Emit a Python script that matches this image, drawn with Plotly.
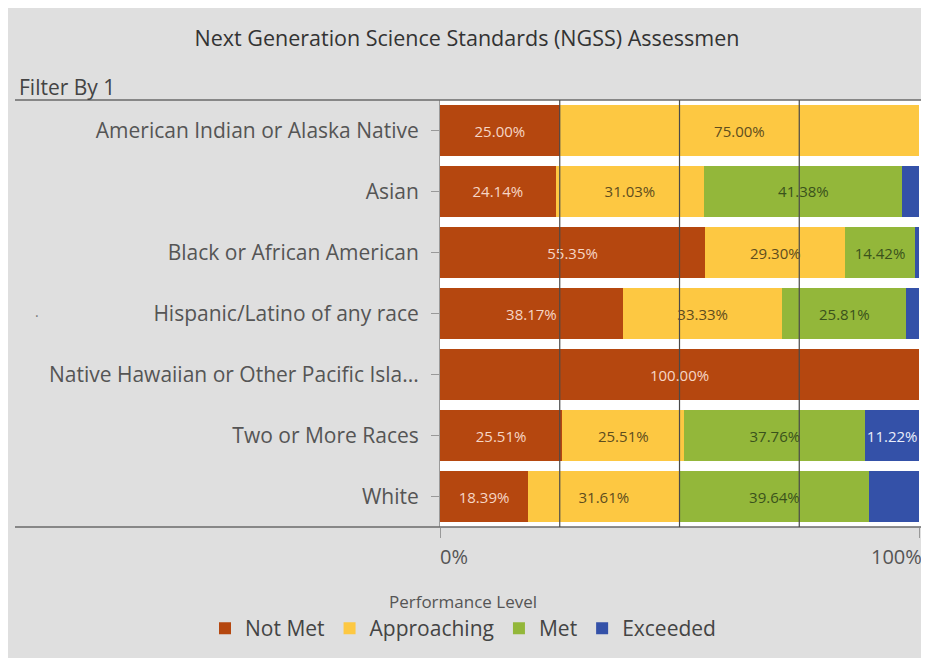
import plotly.graph_objects as go

categories = [
    "American Indian or Alaska Native",
    "Asian",
    "Black or African American",
    "Hispanic/Latino of any race",
    "Native Hawaiian or Other Pacific Isla...",
    "Two or More Races",
    "White",
]
not_met = [25.00, 24.14, 55.35, 38.17, 100.00, 25.51, 18.39]
approaching = [75.00, 31.03, 29.30, 33.33, 0.00, 25.51, 31.61]
met = [0.00, 41.38, 14.42, 25.81, 0.00, 37.76, 39.64]
exceeded = [0.00, 3.45, 0.93, 2.69, 0.00, 11.22, 10.36]

series_names = ["Not Met", "Approaching", "Met", "Exceeded"]
series_values = [not_met, approaching, met, exceeded]
series_colors = ["#b5470f", "#fdc842", "#93b73a", "#3451a8"]
label_colors = ["#f6d6c6", "#5e4d1e", "#3a521c", "#e9eefa"]
grid_vals = [25, 50, 75]
x_tick_vals = [0, 100]
x_tick_text = ["0%", "100%"]

FONT = "Open Sans"
# the page body adds an 8px margin, so the figure is 8px smaller
OFF = 8
W, H = 929 - OFF, 658 - OFF
L, R, T, B = 440 - OFF, 929 - 925, 100 - OFF, 658 - 527
plot_w = W - L - R
plot_h = H - T - B


def pxx(px):
    """reference-image x pixel -> paper x"""
    return (px - OFF - L) / plot_w


def pxy(py):
    """reference-image y pixel -> paper y"""
    return (H - B - (py - OFF)) / plot_h


fig = go.Figure()
for name, vals, col, lcol in zip(series_names, series_values, series_colors, label_colors):
    labels = [f"{v:.2f}%" if v >= 11 else "" for v in vals]
    fig.add_trace(go.Bar(
        y=categories, x=vals, name=name, orientation="h",
        marker=dict(color=col, line=dict(width=0)),
        text=labels, textposition="inside", insidetextanchor="middle",
        textangle=0,
        insidetextfont=dict(family=FONT, size=15, color=lcol),
        hovertemplate="%{y}<br>" + name + ": %{x:.2f}%<extra></extra>",
    ))

shapes = [
    dict(type="line", xref="paper", yref="paper",
         x0=pxx(15), x1=1, y0=1, y1=1,
         line=dict(color="#6a6a6a", width=1.5), layer="above"),
    dict(type="line", xref="paper", yref="paper",
         x0=pxx(15), x1=1, y0=0, y1=0,
         line=dict(color="#6a6a6a", width=1.5), layer="above"),
]
for g in grid_vals:
    shapes.append(dict(type="line", xref="x", yref="paper", x0=g, x1=g, y0=0, y1=1,
                       line=dict(color="#4a4a4a", width=1.2), layer="above"))

annotations = [
    dict(text="Filter By 1", xref="paper", yref="paper",
         x=pxx(17), y=pxy(87), xanchor="left", yanchor="middle",
         showarrow=False, font=dict(family=FONT, size=21, color="#444")),
    dict(text="·", xref="paper", yref="paper",
         x=pxx(37), y=pxy(315), xanchor="center", yanchor="middle",
         showarrow=False, font=dict(family=FONT, size=14, color="#777")),
]
for v, t in zip(x_tick_vals, x_tick_text):
    annotations.append(dict(
        text=t, xref="x", yref="paper", x=v, y=pxy(556),
        xanchor="left" if v == x_tick_vals[0] else "right", yanchor="middle",
        xshift=-2 if v == x_tick_vals[0] else 5,
        showarrow=False, font=dict(family=FONT, size=20, color="#555")))

fig.update_layout(
    width=W, height=H,
    barmode="stack", bargap=0.15,
    paper_bgcolor="#dfdfdf", plot_bgcolor="white",
    margin=dict(l=L, r=R, t=T, b=B, autoexpand=False),
    font=dict(family=FONT, color="#555"),
    title=dict(text="Next Generation Science Standards (NGSS) Assessmen",
               x=(467 - OFF) / W, xref="container", xanchor="center",
               y=1 - (38 - OFF) / H, yref="container", yanchor="middle",
               font=dict(family=FONT, size=21.5, color="#333")),
    xaxis=dict(range=[0, 101.25], tickvals=x_tick_vals, showticklabels=False,
               ticks="outside", ticklen=10, tickcolor="#999", tickwidth=1,
               showgrid=False, zeroline=False, showline=False, fixedrange=True),
    yaxis=dict(autorange="reversed", ticks="outside", ticklen=8, tickcolor="#999",
               tickwidth=1, ticklabelstandoff=8,
               showline=True, linecolor="#9a9a9a", linewidth=1,
               showgrid=False, zeroline=False,
               tickfont=dict(family=FONT, size=21, color="#555"), fixedrange=True),
    legend=dict(orientation="h", traceorder="normal",
                x=pxx(205), xanchor="left",
                y=pxy(586), yanchor="top",
                title=dict(text="Performance Level", side="top center",
                           font=dict(family=FONT, size=17, color="#555")),
                font=dict(family=FONT, size=21, color="#444"),
                bgcolor="rgba(0,0,0,0)", itemwidth=30),
    uniformtext=dict(minsize=15, mode="show"),
    shapes=shapes,
    annotations=annotations,
)

fig.write_html("out.html")
